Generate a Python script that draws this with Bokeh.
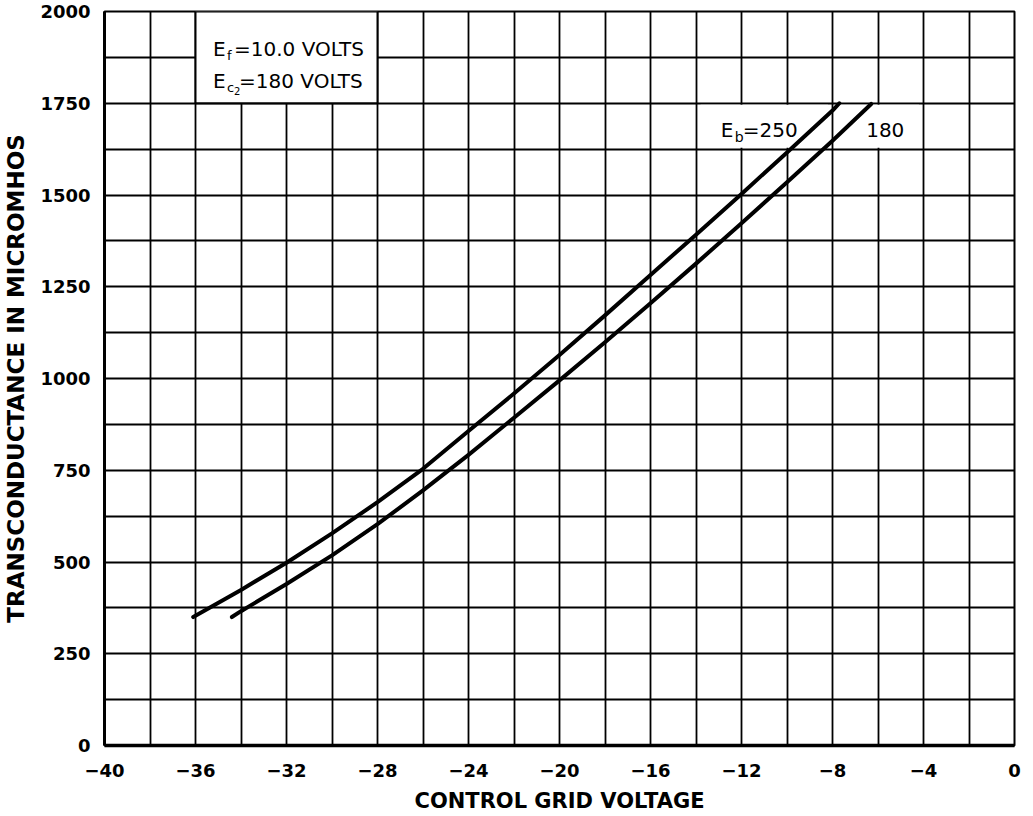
from bokeh.plotting import figure
from bokeh.models import FixedTicker, Range1d
from bokeh.core.properties import value
from bokeh.embed import file_html
from bokeh.resources import INLINE

# ---- data ----
x_ticks = [-40, -36, -32, -28, -24, -20, -16, -12, -8, -4, 0]
x_tick_labels = ["\u221240", "\u221236", "\u221232", "\u221228", "\u221224", "\u221220",
                 "\u221216", "\u221212", "\u22128", "\u22124", "0"]
y_ticks = [0, 250, 500, 750, 1000, 1250, 1500, 1750, 2000]
x_grid = [-38, -36, -34, -32, -30, -28, -26, -24, -22, -20, -18, -16, -14, -12, -10, -8, -6, -4, -2]
y_grid = [125, 250, 375, 500, 625, 750, 875, 1000, 1125, 1250, 1375, 1500, 1625, 1750, 1875]

eb250_x = [-36.1, -34, -32, -30, -28, -26, -24, -22, -20, -18, -16, -14, -12, -10, -8, -7.7]
eb250_y = [350, 424, 498, 578, 663, 754, 857, 959, 1064, 1172, 1282, 1392, 1503, 1616, 1730, 1750]

eb180_x = [-34.4, -34, -32, -30, -28, -26, -24, -22, -20, -18, -16, -14, -12, -10, -8, -6.3]
eb180_y = [350, 366, 440, 518, 603, 695, 792, 893, 995, 1099, 1205, 1313, 1423, 1535, 1648, 1748]

FONT = "DejaVu Sans"

p = figure(frame_width=910, frame_height=734,
           min_border_left=98, min_border_right=9, min_border_top=11, min_border_bottom=63,
           x_range=Range1d(-40, 0), y_range=Range1d(0, 2000),
           output_backend="svg", toolbar_location=None,
           background_fill_color="white", border_fill_color="white")

p.outline_line_color = "black"
p.outline_line_width = 2

# grids
p.xgrid.ticker = FixedTicker(ticks=x_grid)
p.ygrid.ticker = FixedTicker(ticks=y_grid)
for g in (p.xgrid, p.ygrid):
    g.grid_line_color = "black"
    g.grid_line_width = 1.8
    g.grid_line_alpha = 1.0

# axes
p.xaxis.ticker = FixedTicker(ticks=x_ticks)
p.xaxis.major_label_overrides = {t: l for t, l in zip(x_ticks, x_tick_labels)}
p.yaxis.ticker = FixedTicker(ticks=y_ticks)
for ax in (p.xaxis, p.yaxis):
    ax.axis_line_color = "black"
    ax.major_tick_line_color = None
    ax.minor_tick_line_color = None
    ax.major_label_text_font = FONT
    ax.major_label_text_font_size = "18px"
    ax.major_label_text_font_style = "bold"
    ax.major_label_text_color = "black"
    ax.axis_label_text_font = FONT
    ax.axis_label_text_font_style = "bold"
    ax.axis_label_text_color = "black"
p.xaxis.axis_line_width = 3.5
p.yaxis.axis_line_width = 3
p.xaxis.major_label_standoff = 12
p.yaxis.major_label_standoff = 8
p.xaxis.axis_label = "CONTROL GRID VOLTAGE"
p.xaxis.axis_label_text_font_size = "21px"
p.xaxis.axis_label_standoff = 9
p.yaxis.axis_label = "TRANSCONDUCTANCE IN MICROMHOS"
p.yaxis.axis_label_text_font_size = "23px"
p.yaxis.axis_label_standoff = 8

# white boxes over the grid
p.quad(left=[-36], right=[-28], bottom=[1750], top=[2000],
       fill_color="white", line_color="black", line_width=2)
p.quad(left=[-13.8, -7.8], right=[-8.2, -4.2], bottom=[1629, 1629], top=[1746, 1746],
       fill_color="white", line_color=None)

# curves
p.line(eb250_x, eb250_y, line_color="black", line_width=4, line_join="round", line_cap="round")
p.line(eb180_x, eb180_y, line_color="black", line_width=4, line_join="round", line_cap="round")

def txt(x, y, s, size, dx=0, dy=0):
    p.text(x=[x], y=[y], text=[s], x_offset=dx, y_offset=dy,
           text_font=value(FONT), text_font_size=size, text_color="black",
           text_baseline="alphabetic", text_align="left")

# box text
txt(-35.23, 1897, "E", "20px")
txt(-35.23, 1897, "f", "13px", dx=14, dy=6)
txt(-35.23, 1897, "=10.0 VOLTS", "20px", dx=21)
txt(-35.23, 1810, "E", "20px")
txt(-35.23, 1810, "c", "13px", dx=14, dy=6)
txt(-35.23, 1810, "2", "10px", dx=21, dy=10)
txt(-35.23, 1810, "=180 VOLTS", "20px", dx=26)

# curve labels
txt(-12.91, 1676, "E", "20px")
txt(-12.91, 1676, "b", "14px", dx=14, dy=7)
txt(-12.91, 1676, "=250", "20px", dx=22)
txt(-6.52, 1676, "180", "20px")

open("out.html", "w").write(file_html(p, INLINE))
